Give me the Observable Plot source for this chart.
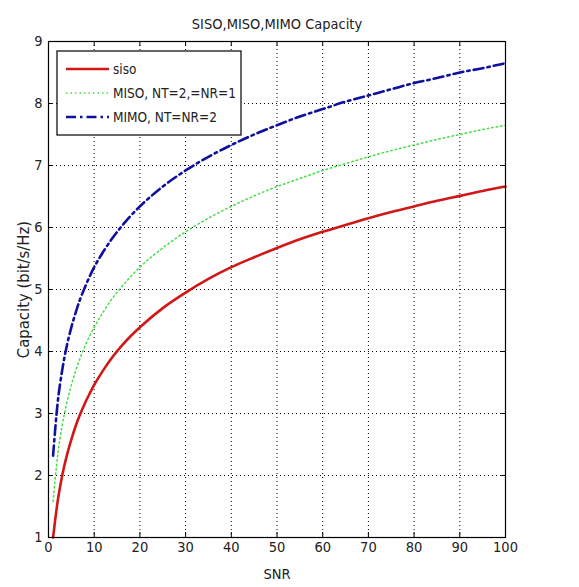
<!DOCTYPE html>
<html>
<head>
<meta charset="utf-8">
<script src="https://cdn.jsdelivr.net/npm/d3@7"></script>
<script src="https://cdn.jsdelivr.net/npm/@observablehq/plot@0.6"></script>
<style>
  html, body { margin: 0; padding: 0; background: #fff; }
  svg { display: block; }
</style>
</head>
<body>
<div id="chart"></div>
<script>
const titleText = "SISO,MISO,MIMO Capacity";
const xLabel = "SNR";
const yLabel = "Capacity (bit/s/Hz)";
const xTicks = [0, 10, 20, 30, 40, 50, 60, 70, 80, 90, 100];
const yTicks = [1, 2, 3, 4, 5, 6, 7, 8, 9];

const snr = [1, 2, 3, 4, 5, 6, 7, 8, 9, 10, 12, 14, 16, 18, 20, 25, 30, 35, 40, 45, 50, 55, 60, 65, 70, 75, 80, 85, 90, 95, 100];
const siso = [1, 1.58, 2, 2.32, 2.58, 2.81, 3, 3.17, 3.32, 3.46, 3.7, 3.91, 4.09, 4.25, 4.39, 4.7, 4.95, 5.17, 5.36, 5.52, 5.67, 5.81, 5.93, 6.04, 6.15, 6.25, 6.34, 6.43, 6.51, 6.59, 6.66];
const miso = [1.58, 2.32, 2.81, 3.17, 3.46, 3.7, 3.91, 4.09, 4.25, 4.39, 4.64, 4.86, 5.04, 5.21, 5.36, 5.67, 5.93, 6.15, 6.34, 6.51, 6.66, 6.79, 6.92, 7.03, 7.14, 7.24, 7.33, 7.42, 7.5, 7.58, 7.65];
const mimo = [2.32, 3.17, 3.7, 4.09, 4.39, 4.64, 4.86, 5.04, 5.21, 5.36, 5.61, 5.83, 6.02, 6.19, 6.34, 6.66, 6.92, 7.14, 7.33, 7.5, 7.65, 7.79, 7.91, 8.03, 8.13, 8.23, 8.33, 8.41, 8.5, 8.57, 8.65];

const seriesNames = ["siso", "MISO, NT=2,=NR=1", "MIMO, NT=NR=2"];
const seriesColors = ["#d01818", "#44dd44", "#1010a0"];
const seriesDash = [null, "1.5,3", "10,4,2.5,4"];
const seriesWidth = [2.6, 1.5, 2.6];

const lineData = [siso, miso, mimo].map(vals => snr.map((s, i) => ({snr: s, c: vals[i]})));

const FONT = "'Liberation Sans Narrow', 'DejaVu Sans Condensed', 'Liberation Sans', Arial, sans-serif";

const lineMarks = lineData.map((d, k) => Plot.line(d, {
  x: "snr", y: "c", stroke: seriesColors[k], strokeWidth: seriesWidth[k],
  strokeDasharray: seriesDash[k], curve: "monotone-x"
}));

const svg = Plot.plot({
  width: 579,
  height: 587,
  marginLeft: 48,
  marginRight: 74,
  marginTop: 41,
  marginBottom: 50,
  style: {fontFamily: FONT, fontSize: "14px", color: "#222", background: "#fff"},
  x: {domain: [0, 100], ticks: xTicks},
  y: {domain: [1, 9], ticks: yTicks},
  marks: [
    Plot.gridX(xTicks, {stroke: "#000", strokeOpacity: 1, strokeDasharray: "1,3"}),
    Plot.gridY(yTicks, {stroke: "#000", strokeOpacity: 1, strokeDasharray: "1,3"}),
    ...lineMarks,
    Plot.ruleX(xTicks, {y1: 1, y2: 1.08, stroke: "#000"}),
    Plot.ruleX(xTicks, {y1: 9, y2: 8.92, stroke: "#000"}),
    Plot.ruleY(yTicks, {x1: 0, x2: 1.1, stroke: "#000"}),
    Plot.ruleY(yTicks, {x1: 100, x2: 98.9, stroke: "#000"}),
    Plot.frame({stroke: "#000", strokeWidth: 1.2}),
    Plot.axisX(xTicks, {tickSize: 0, tickPadding: 4, fontSize: 14.5, tickFormat: d3.format("d"), label: null}),
    Plot.axisY(yTicks, {tickSize: 0, tickPadding: 6, fontSize: 14.5, tickFormat: d3.format("d"), label: null}),
    Plot.text([titleText], {frameAnchor: "top", dy: -23, fontSize: 14.5, fill: "#222"}),
    Plot.text([xLabel], {frameAnchor: "bottom", dy: 41, fontSize: 14.5, fill: "#222"}),
    Plot.text([yLabel], {frameAnchor: "left", textAnchor: "middle", dx: -25, rotate: -90, fontSize: 16.5, fill: "#222"})
  ]
});

// Legend (MATLAB style box, top-left inside axes)
const lg = d3.select(svg).append("g").attr("font-family", FONT).attr("font-size", 13.5)
  .attr("fill", "#222").attr("text-anchor", "start");
lg.append("rect").attr("x", 57).attr("y", 51).attr("width", 184).attr("height", 84)
  .attr("fill", "#fff").attr("stroke", "#000").attr("stroke-width", 1.2);
seriesNames.forEach((name, k) => {
  const yy = 69 + k * 24;
  lg.append("line").attr("x1", 66).attr("x2", 109).attr("y1", yy).attr("y2", yy)
    .attr("stroke", seriesColors[k]).attr("stroke-width", seriesWidth[k])
    .attr("stroke-dasharray", seriesDash[k]);
  lg.append("text").attr("x", 113).attr("y", yy).attr("dy", "0.35em").text(name);
});

document.getElementById("chart").appendChild(svg);
</script>
</body>
</html>
